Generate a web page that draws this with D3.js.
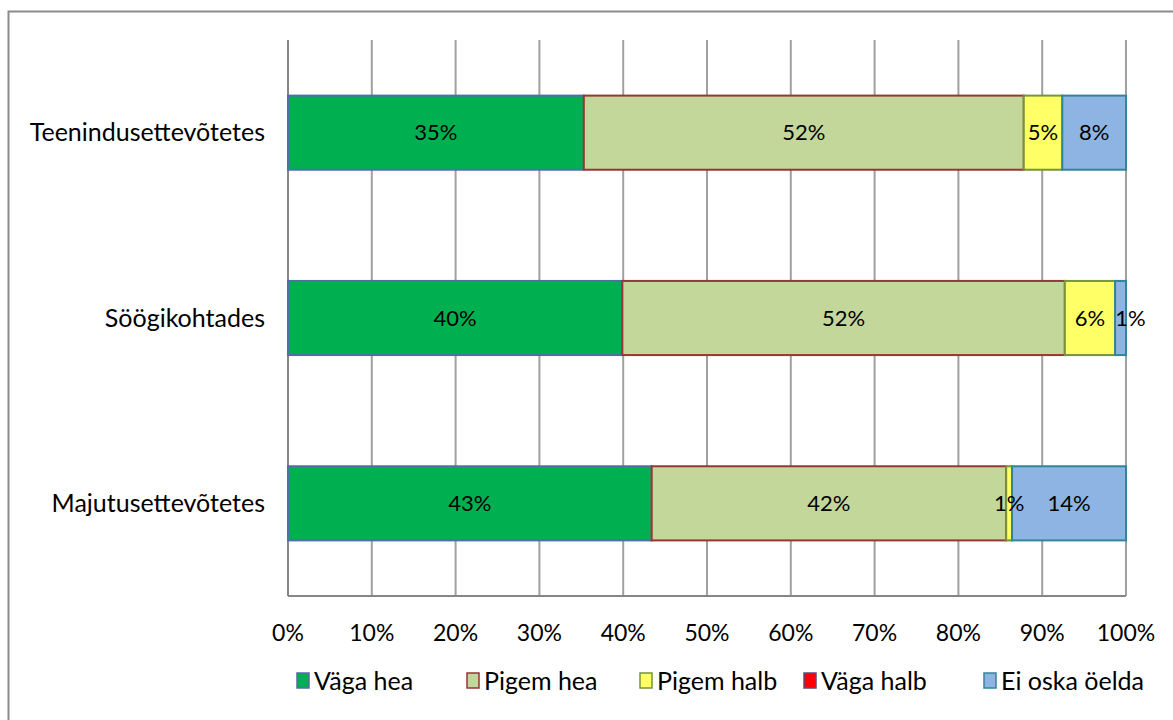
<!DOCTYPE html>
<html>
<head>
<meta charset="utf-8">
<script src="https://cdn.jsdelivr.net/npm/d3@7"></script>
<style>
  body { margin: 0; background: #fff; }
  text { font-family: Lato, "Open Sans", sans-serif; fill: #000; }
</style>
</head>
<body>
<div id="chart"></div>
<script>
// categories, top to bottom
const categories = ["Teenindusettevõtetes", "Söögikohtades", "Majutusettevõtetes"]
const seriesNames = ["Väga hea", "Pigem hea", "Pigem halb", "Väga halb", "Ei oska öelda"]

// shares in percent, one array per series (same order as categories)
const vagaHea = [35.3, 39.9, 43.4]
const pigemHea = [52.5, 52.8, 42.3]
const pigemHalb = [4.6, 6.0, 0.7]
const vagaHalb = [0, 0, 0]
const eiOska = [7.6, 1.3, 13.6]

const labels = [
    ["35%", "52%", "5%", null, "8%"],
    ["40%", "52%", "6%", null, "1%"],
    ["43%", "42%", "1%", null, "14%"]
]

const xTicks = [0, 10, 20, 30, 40, 50, 60, 70, 80, 90, 100]

const fills = ["#00b050", "#c4d79b", "#ffff66", "#ff0000", "#8db4e2"]
const strokes = ["#4f6fa8", "#953735", "#77933c", "#604a7b", "#31859c"]

const W = 1173, H = 720
const margin = { top: 40, right: 47, bottom: 124, left: 288 }
const width = W - margin.left - margin.right
const height = H - margin.top - margin.bottom

const values = [vagaHea, pigemHea, pigemHalb, vagaHalb, eiOska]
const rows = categories.map((c, i) => {
    const r = { cat: c }
    seriesNames.forEach((s, j) => r[s] = values[j][i])
    return r
})
const stacked = d3.stack().keys(seriesNames)(rows)

const svg = d3.select("#chart").append("svg")
    .attr("width", W).attr("height", H)

// outer chart frame
svg.append("rect")
    .attr("x", 8.5).attr("y", 11.5)
    .attr("width", W + 20).attr("height", H + 20)
    .attr("fill", "none").attr("stroke", "#8c8c8c").attr("stroke-width", 2)

const g = svg.append("g").attr("transform", `translate(${margin.left},${margin.top})`)

const x = d3.scaleLinear().domain([0, 100]).range([0, width])
const y = d3.scaleBand().domain(categories).range([0, height]).paddingInner(0.6).paddingOuter(0.3)

// gridlines
g.selectAll(".grid")
    .data(xTicks)
    .join("line")
    .attr("x1", d => x(d)).attr("x2", d => x(d))
    .attr("y1", 0).attr("y2", height)
    .attr("stroke", d => d === 0 ? "#868686" : "#a0a0a0")
    .attr("stroke-width", 2)

// bottom axis line
g.append("line")
    .attr("x1", 0).attr("x2", width)
    .attr("y1", height).attr("y2", height)
    .attr("stroke", "#868686").attr("stroke-width", 2)

// x tick labels
g.selectAll(".tick-label")
    .data(xTicks)
    .join("text")
    .attr("x", d => x(d))
    .attr("y", height + 37)
    .attr("dy", "0.35em")
    .attr("text-anchor", "middle")
    .style("font-size", "23px")
    .text(d => d + "%")

// category labels
g.selectAll(".cat-label")
    .data(categories)
    .join("text")
    .attr("x", -23)
    .attr("y", d => y(d) + y.bandwidth() / 2)
    .attr("dy", "0.35em")
    .attr("text-anchor", "end")
    .style("font-size", "25px")
    .text(d => d)

// bars
stacked.forEach((layer, j) => {
    g.selectAll(".bar-" + j)
        .data(layer.filter(d => d[1] - d[0] > 0))
        .join("rect")
        .attr("x", d => x(d[0]))
        .attr("y", d => y(d.data.cat))
        .attr("width", d => x(d[1]) - x(d[0]))
        .attr("height", y.bandwidth())
        .attr("fill", fills[j])
        .attr("stroke", strokes[j])
        .attr("stroke-width", 2)
})

// data labels (tiny last segment label pushed a bit right like Excel does)
stacked.forEach((layer, j) => {
    layer.forEach((d, i) => {
        const lab = labels[i][j]
        if (!lab) return
        const narrow = j === 4 && x(d[1]) - x(d[0]) < 20
        g.append("text")
            .attr("x", x((d[0] + d[1]) / 2) + (narrow ? 10 : 0))
            .attr("y", y(d.data.cat) + y.bandwidth() / 2)
            .attr("dy", "0.35em")
            .attr("text-anchor", "middle")
            .style("font-size", "22px")
            .text(lab)
    })
})

// legend
const legendX = [297, 467, 640, 804, 984]
const legend = svg.append("g")
seriesNames.forEach((s, j) => {
    legend.append("rect")
        .attr("x", legendX[j]).attr("y", 673)
        .attr("width", 12).attr("height", 15)
        .attr("fill", fills[j]).attr("stroke", strokes[j]).attr("stroke-width", 1.5)
    legend.append("text")
        .attr("x", legendX[j] + 17).attr("y", 681)
        .attr("dy", "0.35em")
        .style("font-size", "25px")
        .text(s)
})
</script>
</body>
</html>
